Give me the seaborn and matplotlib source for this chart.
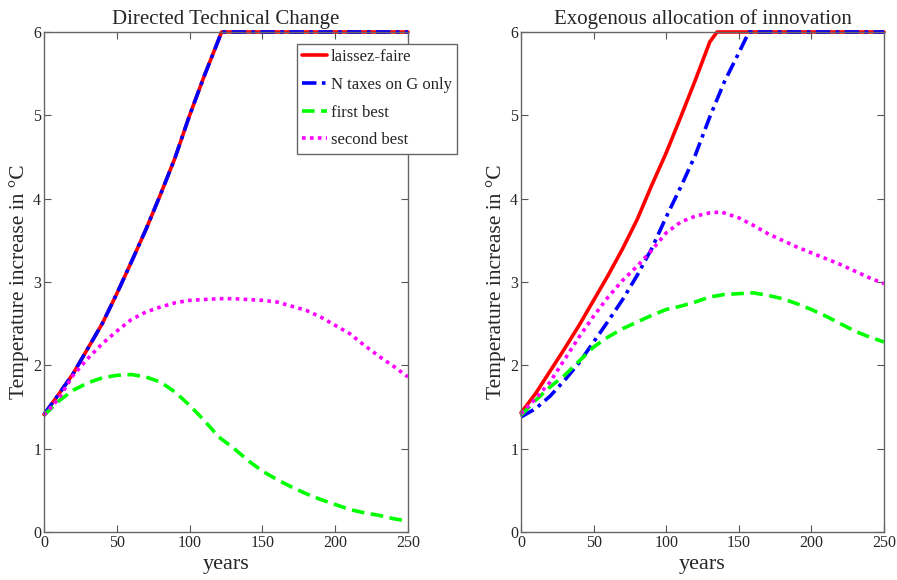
import matplotlib
matplotlib.use("Agg")
import matplotlib.pyplot as plt
import seaborn as sns
import pandas as pd

# ---------------- data ----------------
# Left panel: Directed Technical Change
dtc_lf_years = [0, 10, 20, 30, 40, 50, 60, 70, 80, 90, 100, 110, 122, 250]
dtc_lf_vals = [1.41, 1.65, 1.90, 2.20, 2.50, 2.86, 3.24, 3.63, 4.05, 4.49, 5.00, 5.47, 6.00, 6.00]
dtc_nt_years = [0, 10, 20, 30, 40, 50, 60, 70, 80, 90, 100, 110, 122, 250]
dtc_nt_vals = [1.41, 1.65, 1.90, 2.20, 2.50, 2.86, 3.24, 3.63, 4.05, 4.49, 5.00, 5.47, 6.00, 6.00]
dtc_fb_years = [0, 10, 20, 30, 40, 50, 60, 70, 80, 90, 100, 110, 120, 130, 140, 150,
                160, 170, 180, 190, 200, 210, 220, 230, 240, 250]
dtc_fb_vals = [1.40, 1.57, 1.70, 1.79, 1.85, 1.88, 1.89, 1.86, 1.80, 1.68, 1.52, 1.34, 1.14,
               1.01, 0.86, 0.73, 0.63, 0.54, 0.46, 0.39, 0.33, 0.27, 0.23, 0.20, 0.16, 0.13]
dtc_sb_years = [0, 10, 20, 30, 40, 50, 60, 70, 80, 90, 100, 110, 120, 130, 140, 150,
                160, 170, 180, 190, 200, 210, 220, 230, 240, 250]
dtc_sb_vals = [1.40, 1.60, 1.88, 2.08, 2.26, 2.41, 2.55, 2.64, 2.70, 2.75, 2.78, 2.79, 2.80,
               2.80, 2.79, 2.78, 2.76, 2.71, 2.66, 2.58, 2.48, 2.38, 2.24, 2.11, 1.99, 1.86]

# Right panel: Exogenous allocation of innovation
exo_lf_years = [0, 10, 20, 30, 40, 50, 60, 70, 80, 90, 100, 110, 120, 130, 135, 250]
exo_lf_vals = [1.43, 1.66, 1.93, 2.20, 2.48, 2.78, 3.08, 3.40, 3.75, 4.16, 4.55, 4.98, 5.42,
               5.88, 6.00, 6.00]
exo_nt_years = [0, 10, 20, 30, 40, 50, 60, 70, 80, 90, 100, 110, 120, 130, 140, 150, 157, 250]
exo_nt_vals = [1.38, 1.48, 1.63, 1.82, 2.03, 2.28, 2.53, 2.79, 3.08, 3.40, 3.78, 4.14, 4.52,
               4.98, 5.40, 5.75, 6.00, 6.00]
exo_fb_years = [0, 10, 20, 30, 40, 50, 60, 70, 80, 90, 100, 110, 120, 130, 140, 150,
                160, 170, 180, 190, 200, 210, 220, 230, 240, 250]
exo_fb_vals = [1.40, 1.58, 1.74, 1.88, 2.05, 2.22, 2.34, 2.44, 2.52, 2.60, 2.67, 2.71, 2.76,
               2.82, 2.85, 2.86, 2.87, 2.84, 2.80, 2.74, 2.67, 2.59, 2.50, 2.41, 2.34, 2.28]
exo_sb_years = [0, 10, 20, 30, 40, 50, 60, 70, 80, 90, 100, 110, 120, 130, 138, 150,
                160, 170, 180, 190, 200, 210, 220, 230, 240, 250]
exo_sb_vals = [1.42, 1.60, 1.80, 2.07, 2.34, 2.59, 2.82, 3.02, 3.19, 3.38, 3.59, 3.72, 3.79,
               3.83, 3.84, 3.77, 3.68, 3.58, 3.50, 3.42, 3.35, 3.28, 3.21, 3.13, 3.05, 2.98]

labels = ["laissez-faire", "N taxes on G only", "first best", "second best"]
titles = ["Directed Technical Change", "Exogenous allocation of innovation"]
x_ticks = [0, 50, 100, 150, 200, 250]
y_ticks = [0, 1, 2, 3, 4, 5, 6]

# ---------------- style ----------------
sns.set_style("ticks")
plt.rcParams["font.family"] = ["Liberation Serif", "DejaVu Serif"]

colors = ["#ff0000", "#0000ff", "#00ff00", "#ff00ff"]
styles = ["-", (0, (4, 1.5, 1, 1.5)), (0, (3.5, 1.8)), (0, (1, 1.2))]

fig = plt.figure(figsize=(8.97, 5.8), dpi=100)
ax1 = fig.add_axes([44 / 897, 48 / 580, 364 / 897, 500 / 580])
ax2 = fig.add_axes([521 / 897, 48 / 580, 363 / 897, 500 / 580])

panels = [
    (ax1, [(dtc_lf_years, dtc_lf_vals), (dtc_nt_years, dtc_nt_vals),
           (dtc_fb_years, dtc_fb_vals), (dtc_sb_years, dtc_sb_vals)]),
    (ax2, [(exo_lf_years, exo_lf_vals), (exo_nt_years, exo_nt_vals),
           (exo_fb_years, exo_fb_vals), (exo_sb_years, exo_sb_vals)]),
]

for i, (ax, series) in enumerate(panels):
    for (xs, ys), lab, c, ls in zip(series, labels, colors, styles):
        df = pd.DataFrame({"years": xs, "T": ys})
        sns.lineplot(data=df, x="years", y="T", ax=ax, color=c, linestyle=ls,
                     linewidth=2.6, label=lab if i == 0 else None, legend=False,
                     clip_on=False)
    ax.set_xlim(0, 250)
    ax.set_ylim(0, 6)
    ax.set_xticks(x_ticks)
    ax.set_yticks(y_ticks)
    ax.tick_params(direction="in", top=True, right=True, length=5, width=0.8,
                   color="#555555", labelsize=11.5, pad=2)
    for sp in ax.spines.values():
        sp.set_color("#666666")
        sp.set_linewidth(1.0)
    ax.set_title(titles[i], fontsize=15, pad=6)
    ax.set_xlabel("years", fontsize=16, labelpad=3)
    ax.set_ylabel("Temperature increase in °C", fontsize=15.5, labelpad=3)

leg = ax1.legend(loc="upper left", bbox_to_anchor=(297 / 897, 1 - 44 / 580),
                 bbox_transform=fig.transFigure, fontsize=12.0, frameon=True,
                 fancybox=False, framealpha=1, edgecolor="#666666",
                 handlelength=1.5, handletextpad=0.2, labelspacing=0.7,
                 borderpad=0.32, borderaxespad=0)
leg.get_frame().set_linewidth(1.0)

fig.savefig("out.png", dpi=100)
